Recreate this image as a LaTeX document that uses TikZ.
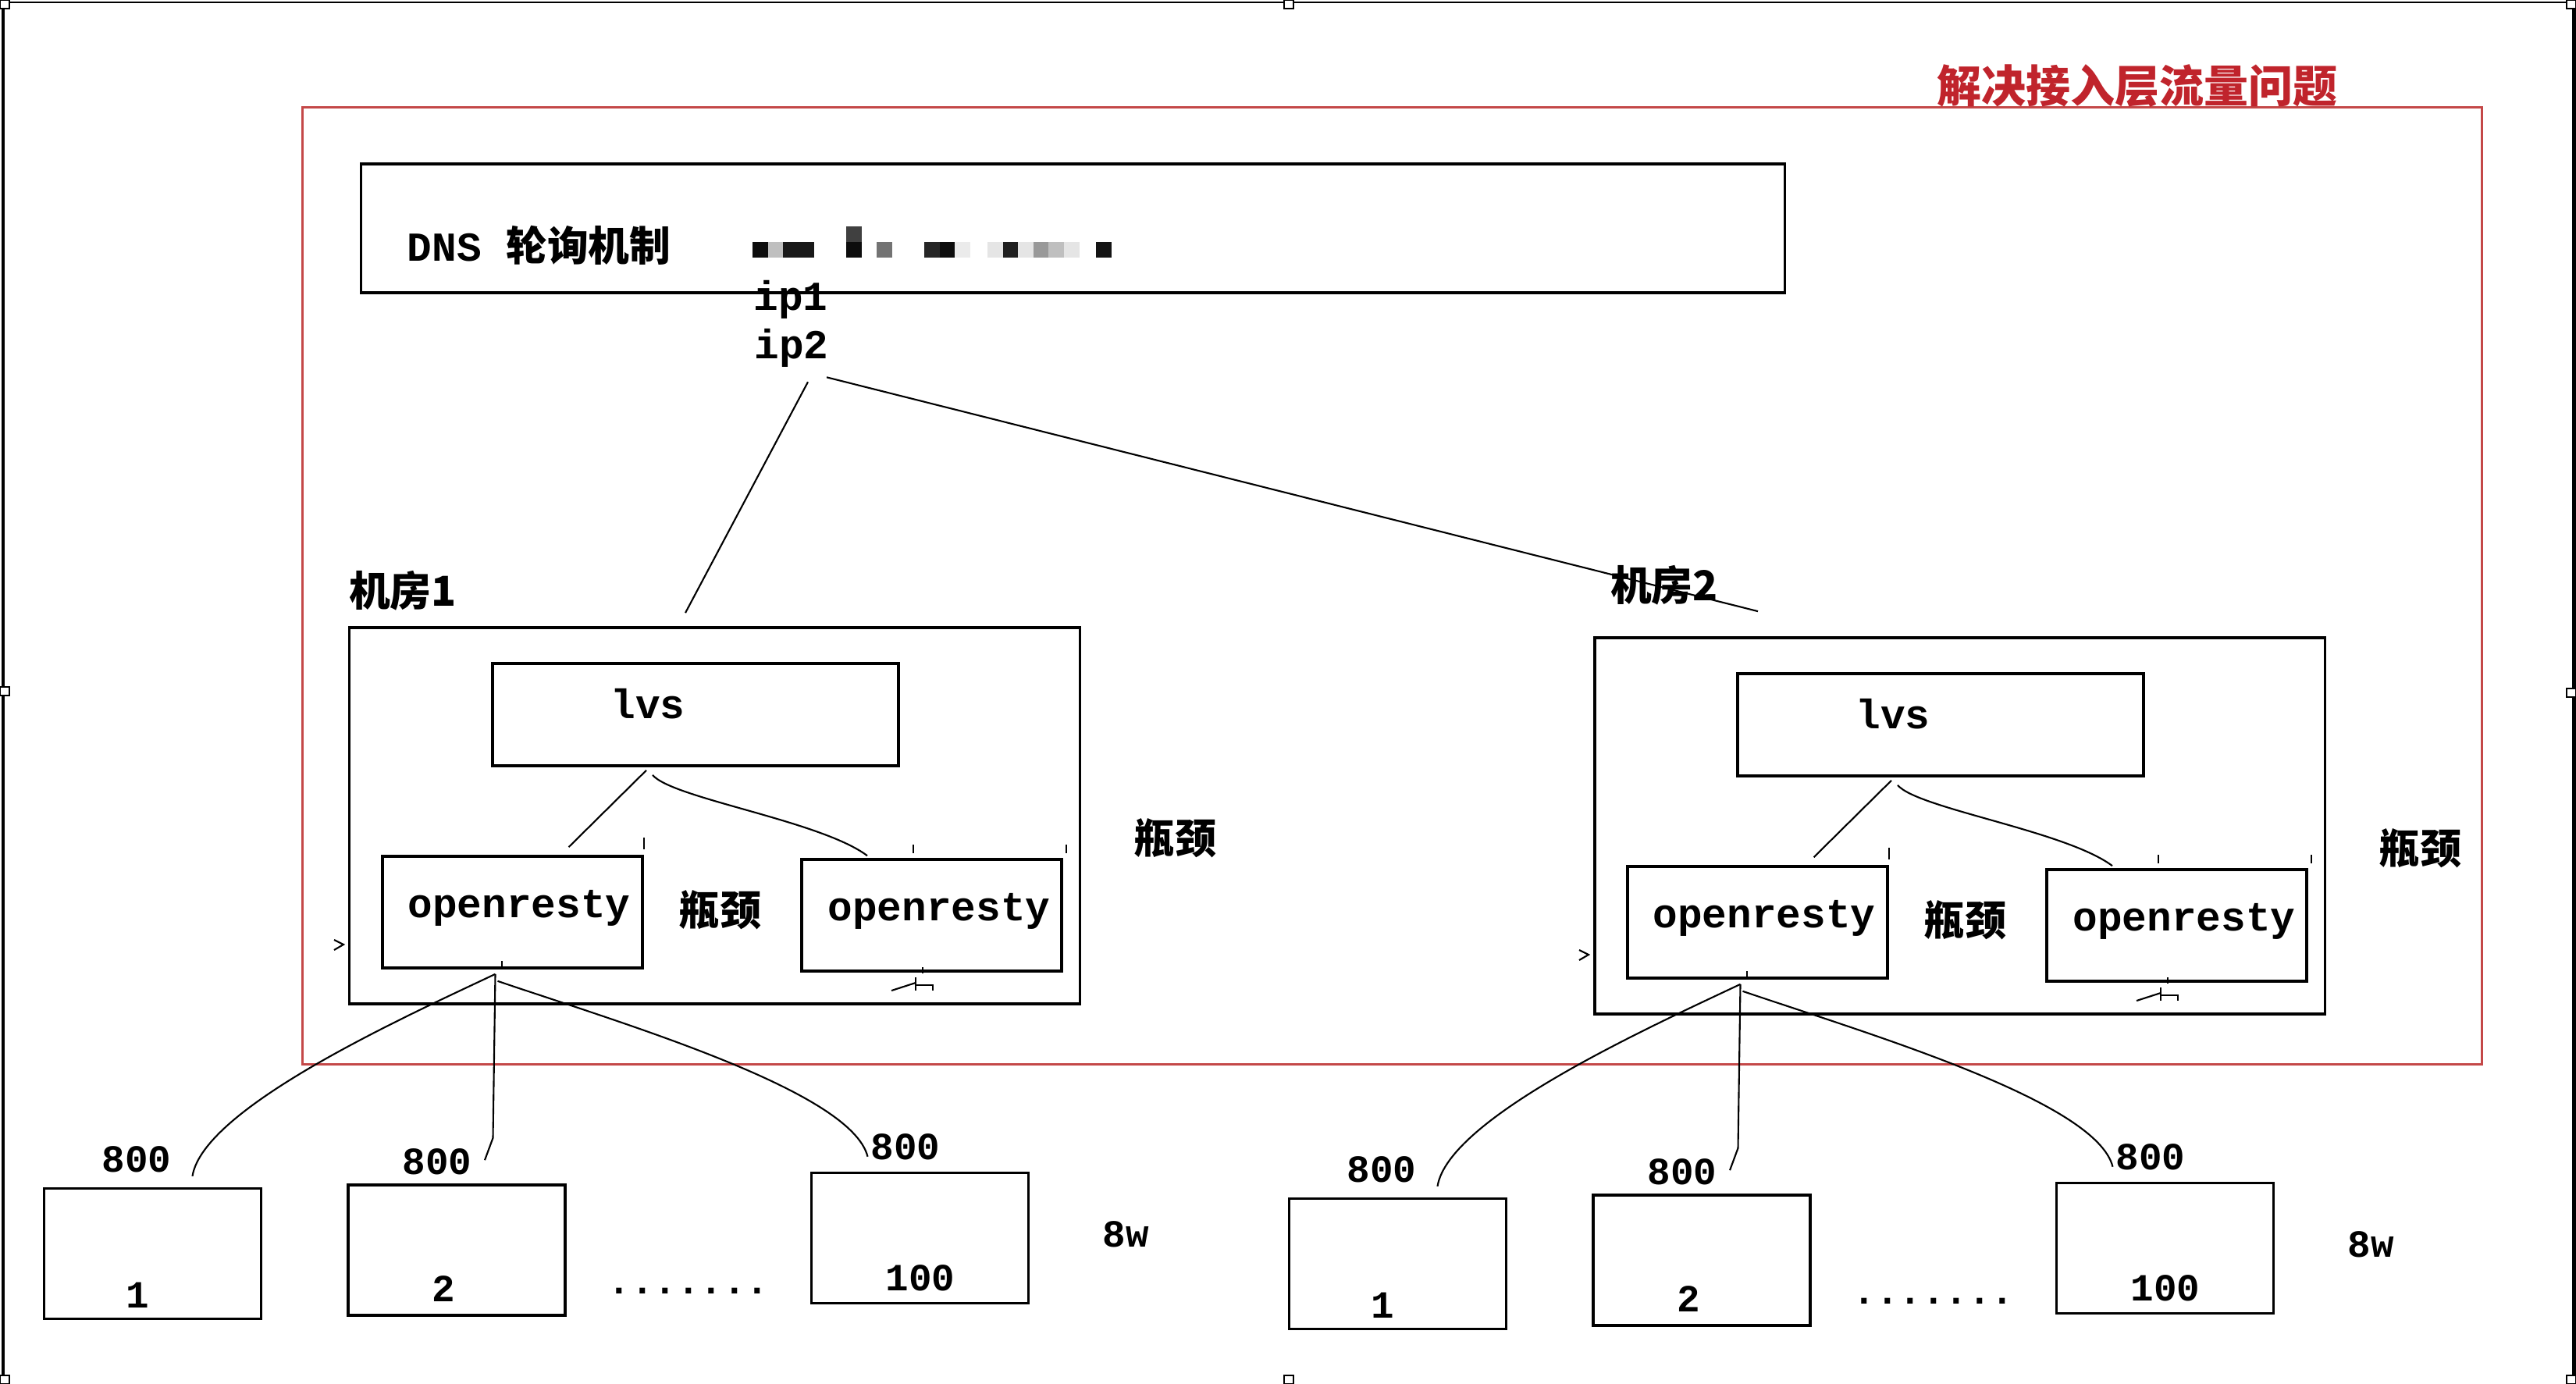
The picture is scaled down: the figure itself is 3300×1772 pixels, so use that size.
\documentclass[tikz,border=0pt]{standalone}
\usepackage{fontspec}
\usepackage{xcolor}
\usepackage{tikz}
\usetikzlibrary{positioning, calc}

\newfontfamily\latin{Liberation Mono}
\newfontfamily\cjk{Noto Sans CJK SC}

\definecolor{zonered}{RGB}{196,72,72}
\definecolor{titlered}{RGB}{192,36,44}

\tikzset{
  box/.style={draw, line width=1pt, inner sep=0pt},
  srv/.style={box, minimum width=2.78cm, minimum height=1.67cm},
  wire/.style={line width=0.6pt},
  en/.style={font=\latin\bfseries\fontsize{15}{15}\selectfont, inner sep=0pt},
  num/.style={font=\latin\bfseries\fontsize{14}{14}\selectfont, inner sep=0pt},
  zh/.style={font=\cjk\bfseries\fontsize{15}{15}\selectfont, inner sep=0pt},
}

\begin{document}
\begin{tikzpicture}[x=0.01cm, y=-0.01cm]
        \useasboundingbox (0,0) rectangle (3300,1772);

        % Frame
        \draw[line width=0.6pt] (6,3) -- (3294,3);
        \draw[line width=1.4pt] (4,12) -- (4,1772);
        \draw[line width=1.4pt] (3297,12) -- (3297,1772);
        \foreach \hx/\hy in {0/0, 1645/0, 3288/0, 0/880, 3288/882, 1645/1762, 0/1762, 3288/1762}
          \filldraw[fill=white, line width=0.8pt] (\hx,\hy) rectangle ++(12,11);

        % Zone
        \node[draw=zonered, line width=0.8pt, minimum width=27.91cm, minimum height=12.25cm] (zone) at (1783.5,750.5) {};
        \node[zh, text=titlered, font=\cjk\bfseries\fontsize{16.2}{16.2}\selectfont] (title) at (2738,110) {解决接入层流量问题};

        % DNS
        \node[box, minimum width=18.23cm, minimum height=1.65cm] (dns) at (1374.5,292.5) {};
        \node[en, anchor=west] (dnsText) at (521,314) {DNS {\cjk 轮询机制}};
        \foreach \mx/\mk in {964/95, 983.6/25, 1003/90, 1023/90, 1084/95, 1123/55, 1184/85, 1203.5/95, 1223/8, 1265/10, 1285/88, 1304/10, 1324/40, 1343/25, 1363/10, 1404/92}
          \fill[black!\mk] (\mx,310) rectangle ++(19.6,20);
        \fill[black!75] (1084,290) rectangle ++(19.6,20);
        \node[en] (ipa) at (1013,384) {ip1};
        \node[en] (ipb) at (1014,446) {ip2};

        % Room 1
        \node[zh] (roomAName) at (516,757) {机房1};
        \node[box, minimum width=9.35cm, minimum height=4.82cm] (roomA) at (915.5,1045) {};
        \node[box, minimum width=5.2cm, minimum height=1.31cm] (lvsA) at (891,915.5) {};
        \node[en] (lvsAText) at (830,902) {lvs};
        \node[box, minimum width=3.33cm, minimum height=1.43cm] (orA1) at (656.5,1168.5) {};
        \node[en] (orA1Text) at (665,1163) {openresty};
        \node[box, minimum width=3.33cm, minimum height=1.43cm] (orA2) at (1193.5,1172.5) {};
        \node[en] (orA2Text) at (1203,1167) {openresty};
        \node[zh] (neckA1) at (922,1166) {瓶颈};
        \node[zh] (neckA2) at (1505,1074) {瓶颈};

        \draw[wire] ($(lvsA.south)+(-63,4)$) -- ($(orA1.north)+(72,-10)$);
        \draw[wire] ($(lvsA.south)+(-55,10)$) .. controls +(25,30) and +(-60,-45) .. ($(orA2.north)+(-82.5,-3)$);
        \draw[wire] (825,1073) -- (825,1088);
        \draw[wire] (1170,1082) -- (1170,1093);
        \draw[wire] (1366,1082) -- (1366,1093);
        \draw[wire] (428,1204) -- (440,1210) -- (428,1217);
        \draw[wire] (643,1231) -- (643,1241);
        \draw[wire] (1182,1239) -- (1182,1247);
        \draw[wire] (1142,1269) -- (1173,1259);
        \draw[wire] (1173,1252) -- (1173,1269);
        \draw[wire] (1173,1262) -- (1195,1262) -- (1195,1269);

        % Servers 1
        \node[srv] (srvA1) at (195.5,1606) {};
        \node[num] (srvA1Text) at (176,1659) {1};
        \node[srv] (srvA2) at (585,1601.5) {};
        \node[num] (srvA2Text) at (568,1651) {2};
        \node[srv] (srvA3) at (1178.5,1586) {};
        \node[num] (srvA3Text) at (1179,1637) {100};
        \node[num] (dotsA) at (882,1654) {.......};
        \node[num] (loadA) at (1442,1581) {8w};
        \node[num] (qpsA1) at (175,1485) {800};
        \node[num] (qpsA2) at (560,1488) {800};
        \node[num] (qpsA3) at (1160,1469) {800};

        \draw[wire] ($(orA1.south)+(-22,6)$) .. controls +(-114,54) and +(14,-88) .. ($(srvA1.north)+(51,-14)$);
        \draw[wire] ($(orA1.south)+(-22,6)$) -- ++(-3,210) -- ($(srvA2.north)+(36,-30)$);
        \draw[wire] ($(orA1.south)+(-19,15)$) .. controls +(162,55) and +(-21,-84) .. ($(srvA3.north)+(-67,-19)$);

        % Room 2
        \node[zh] (roomBName) at (2132,750) {机房2};
        \begin{scope}[shift={(1595,13)}]
        \node[box, minimum width=9.35cm, minimum height=4.82cm] (roomB) at (915.5,1045) {};
        \node[box, minimum width=5.2cm, minimum height=1.31cm] (lvsB) at (891,915.5) {};
        \node[en] (lvsBText) at (830,902) {lvs};
        \node[box, minimum width=3.33cm, minimum height=1.43cm] (orB1) at (656.5,1168.5) {};
        \node[en] (orB1Text) at (665,1163) {openresty};
        \node[box, minimum width=3.33cm, minimum height=1.43cm] (orB2) at (1193.5,1172.5) {};
        \node[en] (orB2Text) at (1203,1167) {openresty};
        \node[zh] (neckB1) at (922,1166) {瓶颈};
        \node[zh] (neckB2) at (1505,1074) {瓶颈};

        \draw[wire] ($(lvsB.south)+(-63,4)$) -- ($(orB1.north)+(72,-10)$);
        \draw[wire] ($(lvsB.south)+(-55,10)$) .. controls +(25,30) and +(-60,-45) .. ($(orB2.north)+(-82.5,-3)$);
        \draw[wire] (825,1073) -- (825,1088);
        \draw[wire] (1170,1082) -- (1170,1093);
        \draw[wire] (1366,1082) -- (1366,1093);
        \draw[wire] (428,1204) -- (440,1210) -- (428,1217);
        \draw[wire] (643,1231) -- (643,1241);
        \draw[wire] (1182,1239) -- (1182,1247);
        \draw[wire] (1142,1269) -- (1173,1259);
        \draw[wire] (1173,1252) -- (1173,1269);
        \draw[wire] (1173,1262) -- (1195,1262) -- (1195,1269);

        % Servers 2
        \node[srv] (srvB1) at (195.5,1606) {};
        \node[num] (srvB1Text) at (176,1659) {1};
        \node[srv] (srvB2) at (585,1601.5) {};
        \node[num] (srvB2Text) at (568,1651) {2};
        \node[srv] (srvB3) at (1178.5,1586) {};
        \node[num] (srvB3Text) at (1179,1637) {100};
        \node[num] (dotsB) at (882,1654) {.......};
        \node[num] (loadB) at (1442,1581) {8w};
        \node[num] (qpsB1) at (175,1485) {800};
        \node[num] (qpsB2) at (560,1488) {800};
        \node[num] (qpsB3) at (1160,1469) {800};

        \draw[wire] ($(orB1.south)+(-22,6)$) .. controls +(-114,54) and +(14,-88) .. ($(srvB1.north)+(51,-14)$);
        \draw[wire] ($(orB1.south)+(-22,6)$) -- ++(-3,210) -- ($(srvB2.north)+(36,-30)$);
        \draw[wire] ($(orB1.south)+(-19,15)$) .. controls +(162,55) and +(-21,-84) .. ($(srvB3.north)+(-67,-19)$);
        \end{scope}

        % DNS to rooms
        \draw[wire] ($(ipb.south)+(21,18)$) -- ($(roomA.north)+(-37.5,-17)$);
        \draw[wire] ($(ipb.south)+(45,12)$) -- ($(roomB.north)+(-258.5,-32)$);
      \end{tikzpicture}
\end{document}
